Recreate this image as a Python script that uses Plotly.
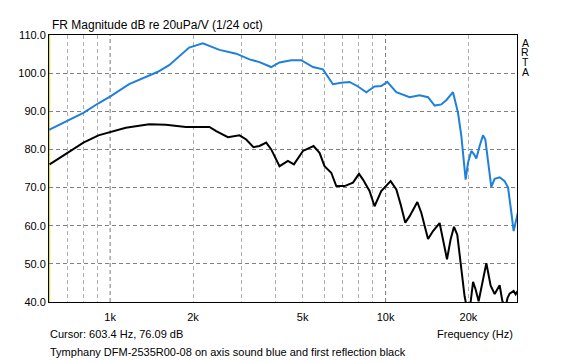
import math
import plotly.graph_objects as go

# ---------------- data ----------------
blue_freq = [600, 700, 800, 907, 1006, 1172, 1386, 1485, 1638, 1936, 2171, 2495, 2869,
             3206, 3485, 3845, 4121, 4545, 4940, 5450, 5925, 6440, 6905, 7400, 7940,
             8510, 9120, 9647, 10140, 10940, 12230, 13290, 14260, 15070, 15930, 16610,
             17570, 18320, 18840, 19200, 19530, 19920, 20480, 20950, 21360, 21950,
             22580, 23020, 23540, 24200, 24890, 25950, 27050, 27840, 28620, 29170, 30400]
blue_db = [85.1, 87.6, 89.6, 92.1, 94.0, 97.1, 99.4, 100.3, 102.1, 106.7, 107.8, 106.1, 105.1,
           103.6, 102.9, 101.6, 102.8, 103.4, 103.4, 101.6, 101.0, 97.1, 97.5, 97.7, 96.5,
           95.0, 96.5, 96.6, 97.7, 95.0, 93.7, 94.2, 93.7, 91.5, 91.8, 92.9,
           95.0, 89.6, 83.5, 78.2, 72.1, 76.5, 79.6, 78.7, 77.6, 80.9,
           83.7, 82.6, 76.5, 70.2, 72.3, 72.7, 71.7, 70.0, 63.4, 58.6, 64.2]

black_freq = [603, 700, 800, 907, 1006, 1140, 1386, 1594, 1884, 2295, 2427, 2677, 2949,
              3119, 3315, 3485, 3687, 3845, 4121, 4421, 4648, 5012, 5477, 5758, 6003,
              6350, 6623, 7100, 7613, 8008, 8280, 8746, 9120, 9647, 10430, 10940, 11340,
              11790, 12230, 13040, 13480, 14260, 14870, 15710, 16160, 16710, 17220, 17720,
              18210, 18840, 19360, 19920, 20360, 20780, 21230, 21770, 22460, 23220, 24070,
              24890, 25950, 26540, 27220, 27700, 28210, 29170, 29660, 30410]
black_db = [76.1, 79.1, 81.8, 83.7, 84.6, 85.7, 86.6, 86.5, 85.9, 85.9, 84.8, 83.2, 83.7,
            82.6, 80.6, 80.9, 81.8, 80.0, 75.6, 77.0, 76.1, 79.6, 80.9, 79.1, 75.6,
            73.9, 70.4, 70.4, 71.3, 73.6, 72.1, 69.1, 65.1, 69.1, 71.7, 69.5, 65.6,
            60.8, 62.5, 66.2, 63.4, 56.5, 58.6, 60.7, 56.4, 51.2, 56.4, 59.7,
            57.6, 48.5, 41.5, 37.0, 40.0, 45.3, 43.3, 40.2, 45.0, 50.2, 44.3,
            42.1, 44.4, 40.3, 38.5, 41.0, 42.2, 42.9, 42.0, 43.3]

x_tick_vals = [1000, 2000, 5000, 10000, 20000]
x_tick_text = ["1k", "2k", "5k", "10k", "20k"]
minor_grid = [700, 800, 900, 2000, 3000, 4000, 5000, 6000, 7000, 8000, 9000, 20000]
decade_grid = [1000, 10000]
cursor_freq = 603.4

FONT = "Liberation Sans, Arial, sans-serif"

fig = go.Figure()
fig.add_trace(go.Scatter(x=blue_freq, y=blue_db, mode="lines",
                         line=dict(color="#1E80DC", width=2), hoverinfo="skip"))
fig.add_trace(go.Scatter(x=black_freq, y=black_db, mode="lines",
                         line=dict(color="#000000", width=2), hoverinfo="skip"))

shapes = []
for f in decade_grid:
    shapes.append(dict(type="line", xref="x", yref="paper", x0=f, x1=f, y0=0, y1=1,
                       line=dict(color="#7a7a7a", width=1, dash="4px,3px"), layer="below"))
shapes.append(dict(type="line", xref="x", yref="paper", x0=cursor_freq, x1=cursor_freq,
                   y0=0, y1=1, line=dict(color="#d8d800", width=1), layer="below"))

fig.update_layout(
    width=565, height=362,
    margin=dict(l=49, r=48, t=35, b=60, autoexpand=False),
    paper_bgcolor="white", plot_bgcolor="white",
    showlegend=False,
    font=dict(family=FONT, size=11, color="black"),
    shapes=shapes,
    xaxis=dict(type="log", range=[math.log10(600), math.log10(30000)],
               tickvals=x_tick_vals, ticktext=x_tick_text, ticks="",
               showgrid=False, zeroline=False, ticklabelstandoff=5,
               showline=True, linecolor="black", linewidth=1, mirror=True,
               tickfont=dict(size=11, color="black"),
               minor=dict(tickvals=minor_grid, showgrid=True, gridcolor="#b0b0b0",
                          griddash="4px,3px", gridwidth=1, ticks="")),
    yaxis=dict(range=[40, 110], dtick=10, tick0=40, tickformat=".1f", ticks="",
               showgrid=True, gridcolor="#808080", griddash="4px,3px", gridwidth=1,
               zeroline=False, showline=True, linecolor="black", linewidth=1, mirror=True,
               tickfont=dict(size=11, color="black")),
)

def px_x(p):
    return (p - 49) / 468.0

def px_y(p):
    return (302 - p) / 267.0

ann = []
ann.append(dict(text="FR Magnitude dB re 20uPa/V (1/24 oct)", x=px_x(50), y=px_y(25),
                xanchor="left", yanchor="middle", font=dict(size=12)))
for letter, yy in zip(["A", "R", "T", "A"], [42.7, 52.2, 61.8, 71.6]):
    ann.append(dict(text=letter, x=px_x(525), y=px_y(yy), xanchor="center",
                    yanchor="middle", font=dict(size=10.5)))
ann.append(dict(text="Cursor: 603.4 Hz, 76.09 dB", x=px_x(48), y=px_y(334),
                xanchor="left", yanchor="middle", font=dict(size=11)))
ann.append(dict(text="Frequency (Hz)", x=px_x(515), y=px_y(334),
                xanchor="right", yanchor="middle", font=dict(size=11)))
ann.append(dict(text="Tymphany DFM-2535R00-08 on axis sound blue and first reflection black",
                x=px_x(48), y=px_y(351.7), xanchor="left", yanchor="middle",
                font=dict(size=11)))
for a in ann:
    a.update(xref="paper", yref="paper", showarrow=False)
fig.update_layout(annotations=ann)

fig.write_html("out.html", config={"displayModeBar": False},
               post_script="document.body.style.margin='0';document.body.style.padding='0';")
